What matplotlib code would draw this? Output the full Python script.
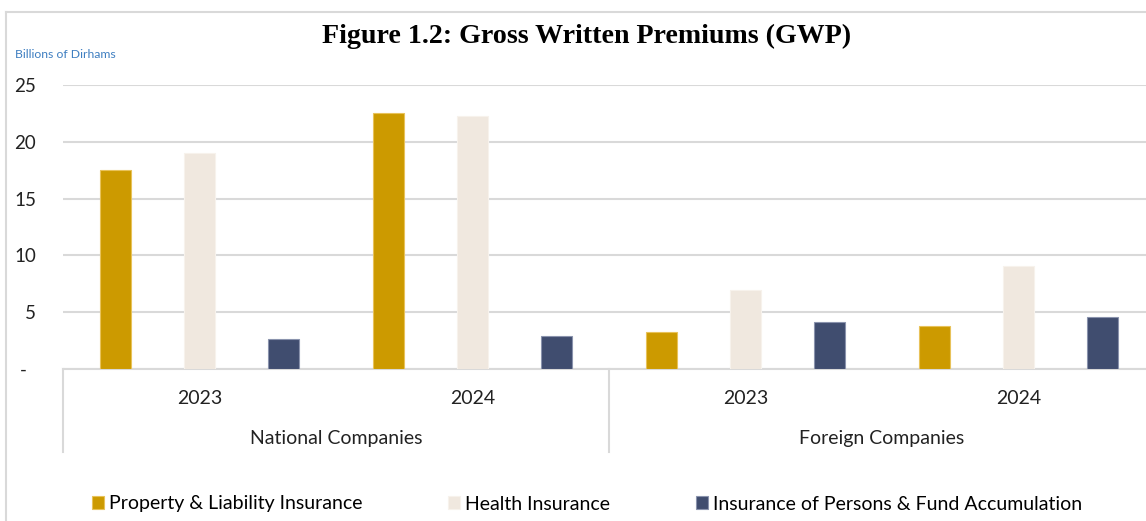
import numpy as np
import matplotlib
matplotlib.use("Agg")
import matplotlib.pyplot as plt
from matplotlib.lines import Line2D
from matplotlib.transforms import blended_transform_factory

# data (billions of dirhams)
years = ["2023", "2024", "2023", "2024"]
groups = ["National Companies", "Foreign Companies"]
series_names = ["Property & Liability Insurance", "Health Insurance",
                "Insurance of Persons & Fund Accumulation"]
property_liability = [17.5, 22.5, 3.25, 3.8]
health = [19.0, 22.3, 6.95, 9.05]
persons_fund = [2.65, 2.9, 4.15, 4.6]

colors = ["#CC9A00", "#F0E8DF", "#404D6F"]
edges = ["#E8C25A", "#F7F2EC", "#8A93AD"]

plt.rcParams['font.family'] = ['Lato', 'DejaVu Sans']

fig = plt.figure(figsize=(11.46, 5.21), dpi=100)
W, H = 1146, 521

# outer chart border (only top and left visible in the crop)
fig.add_artist(Line2D([6 / W, 1.0], [1 - 12 / H, 1 - 12 / H], transform=fig.transFigure,
                      color="#D9D9D9", linewidth=1.5))
fig.add_artist(Line2D([6 / W, 6 / W], [0, 1 - 12 / H], transform=fig.transFigure,
                      color="#D9D9D9", linewidth=1.5))

ax = fig.add_axes([63 / W, (H - 369) / H, 1092 / W, 284 / H])

x = np.arange(len(years))
offs = [-0.3077, 0.0, 0.3077]
bw = 0.114
for vals, off, c, ec, name in zip([property_liability, health, persons_fund], offs, colors, edges, series_names):
    ax.bar(x + off, vals, width=bw, color=c, edgecolor=ec, linewidth=0.8, label=name, zorder=3)

ax.set_xlim(-0.5, 3.5)
ax.set_ylim(0, 25)
ax.set_yticks([0, 5, 10, 15, 20, 25])
ax.set_yticklabels(["-  ", "5", "10", "15", "20", "25"], fontsize=13.5, color="#222222")
ax.tick_params(axis="y", length=0, pad=19.4)
ax.tick_params(axis="x", length=0, labelbottom=False)
ax.grid(axis="y", color="#D9D9D9", linewidth=1.5, zorder=0)
for s in ["top", "right", "left"]:
    ax.spines[s].set_visible(False)
ax.spines["bottom"].set_color("#D9D9D9")
ax.spines["bottom"].set_linewidth(1.5)

# two-level category axis
tr = blended_transform_factory(ax.transData, ax.transAxes)
for xi, lab in zip(x, years):
    ax.text(xi, -0.105, lab, transform=tr, ha="center", va="center", fontsize=14, color="#222222")
for gi, g in enumerate(groups):
    ax.text(gi * 2 + 0.5, -0.246, g, transform=tr, ha="center", va="center", fontsize=14, color="#222222")
for sx in [-0.5, 1.5, 3.5]:
    ax.plot([sx, sx], [0, -0.292], transform=tr, color="#D9D9D9", linewidth=1.5, clip_on=False)

fig.text(587 / W, 1 - 36 / H, "Figure 1.2: Gross Written Premiums (GWP)", ha="center", va="center",
         fontsize=20.2, fontweight="bold", family="Liberation Serif")
fig.text(15 / W, 1 - 55 / H, "Billions of Dirhams", ha="left", va="center", fontsize=8.8, color="#3F7FC1")

leg = fig.legend(loc="center", bbox_to_anchor=(587 / W, 1 - 504 / H), ncol=3, frameon=False,
                 fontsize=14, handlelength=0.62, handleheight=0.62, handletextpad=0.26, columnspacing=4.4)

fig.savefig("out.png", dpi=100)
